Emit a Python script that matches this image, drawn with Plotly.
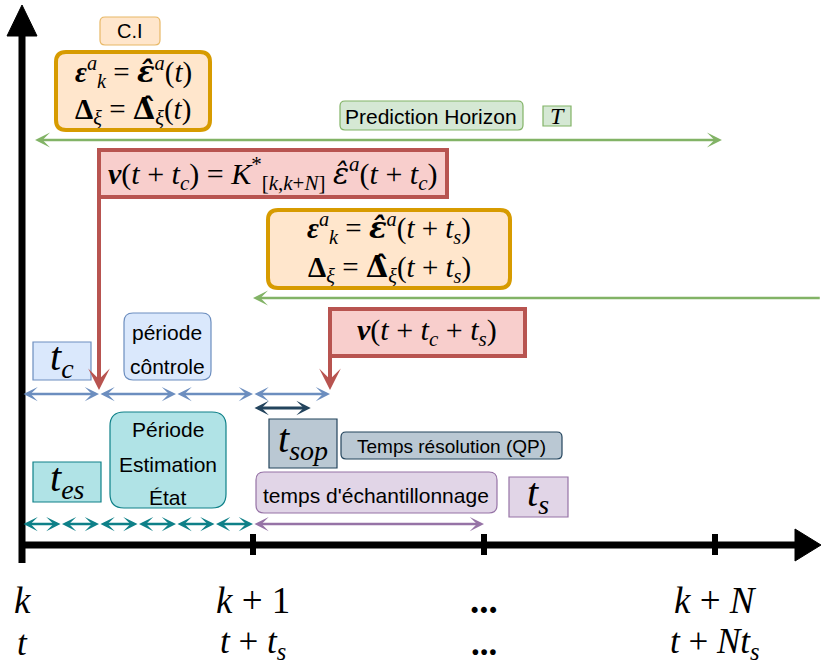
import plotly.graph_objects as go

# time line, in units of the sampling time t_s
t_s = 1.0
t_c = t_s / 3            # control period
t_es = t_s / 6           # estimation period
t_sop = t_s / 4          # QP solve time
n_ctrl = 4               # control periods drawn
n_est = 6                # estimation periods drawn
tick_steps = [1, 2, 3]   # k+1, ..., k+N
label_steps = [0, 1, 2, 3]
k_labels = ["<i>k</i>", "<i>k</i> + 1", "<b>...</b>", "<i>k</i> + <i>N</i>"]
t_labels = ["<i>t</i>", "<i>t</i> + <i>t</i><sub><i>s</i></sub>", "<b>...</b>",
            "<i>t</i> + <i>Nt</i><sub><i>s</i></sub>"]
horizon_1 = [0.05, 3.03]
horizon_2 = [1.0, 3.46]

# page geometry (pixels): origin of the time axis and pixels per t_s
W, H = 821, 668
X0, PX = 22, 231
t_end = (W - X0) / PX


def px(v):
    return (v - X0) / PX


MATH = "Liberation Serif"
SANS = "Liberation Sans"
HAT = '<span style="font-family:DejaVu Serif">{}</span>'

fig = go.Figure()
shapes = []


def box(x0, y0, x1, y1, fill, line, lw=1.2, r=6):
    if r == 0:
        shapes.append(dict(type="rect", x0=px(x0), x1=px(x1), y0=y0, y1=y1,
                           fillcolor=fill, line=dict(color=line, width=lw), layer="below"))
        return
    rx = r / PX
    a, b = px(x0), px(x1)
    p = (f"M{a+rx},{y0} L{b-rx},{y0} Q{b},{y0} {b},{y0+r} L{b},{y1-r} Q{b},{y1} {b-rx},{y1} "
         f"L{a+rx},{y1} Q{a},{y1} {a},{y1-r} L{a},{y0+r} Q{a},{y0} {a+rx},{y0} Z")
    shapes.append(dict(type="path", path=p, fillcolor=fill,
                       line=dict(color=line, width=lw), layer="below"))


def text(x, y, s, size, family=SANS, color="black"):
    fig.add_annotation(x=px(x), y=y, text=s, showarrow=False, xanchor="center",
                       yanchor="middle", font=dict(family=family, size=size, color=color))


def arrow(x0, x1, y0, y1, color, width, size, both=True, head=3):
    fig.add_annotation(x=x1, y=y1, ax=x0, ay=y0, xref="x", yref="y", axref="x", ayref="y",
                       text="", showarrow=True, arrowhead=head, arrowsize=size,
                       arrowwidth=width, arrowcolor=color,
                       arrowside="end+start" if both else "end",
                       startarrowhead=head, startarrowsize=size)


ORANGE_F, ORANGE_L = "#ffe6cc", "#d79b00"
RED_F, RED_L = "#f8cecc", "#b85450"
GREEN_F, GREEN_L = "#d5e8d4", "#82b366"
BLUE_F, BLUE_L = "#dae8fc", "#6c8ebf"
TEAL_F, TEAL_L = "#b0e3e6", "#0e8088"
GREY_F, GREY_L = "#bac8d3", "#23445d"
PURP_F, PURP_L = "#e1d5e7", "#9673a6"

# boxes
box(100, 17, 160, 45, ORANGE_F, "#e8b866", 1.2, 5)
box(56, 52, 210, 130, ORANGE_F, ORANGE_L, 4, 10)
box(340, 101, 523, 130, GREEN_F, GREEN_L, 1.2, 5)
box(543, 106, 571, 126, GREEN_F, GREEN_L, 1.2, 0)
box(X0 + t_c * PX, 150, 447, 197, RED_F, RED_L, 4, 0)
box(268, 210, 510, 288, ORANGE_F, ORANGE_L, 4, 10)
box(X0 + (t_s + t_c) * PX, 309, 525, 356, RED_F, RED_L, 4, 0)
box(33, 342, 91, 380, BLUE_F, BLUE_L, 1.2, 0)
box(124, 313, 211, 380, BLUE_F, BLUE_L, 1.2, 9)
box(33, 462, 101, 502, TEAL_F, TEAL_L, 1.2, 0)
box(110, 412, 226, 508, TEAL_F, TEAL_L, 1.2, 14)
box(269, 419, 337, 468, GREY_F, GREY_L, 1.2, 0)
box(341, 432, 562, 459, GREY_F, GREY_L, 1.2, 5)
box(256, 472, 497, 513, PURP_F, PURP_L, 1.2, 8)
box(509, 477, 568, 517, PURP_F, PURP_L, 1.2, 0)

# axes drawn as thick black arrows
shapes.append(dict(type="line", x0=0, x1=0, y0=563, y1=30, line=dict(color="black", width=7)))
shapes.append(dict(type="path", fillcolor="black", line=dict(color="black", width=1),
                   path=f"M0,5 L{15/PX},36 L{-15/PX},36 Z"))
shapes.append(dict(type="line", x0=0, x1=px(798), y0=545, y1=545,
                   line=dict(color="black", width=7)))
shapes.append(dict(type="path", fillcolor="black", line=dict(color="black", width=1),
                   path=f"M{t_end},545 L{px(795)},529 L{px(795)},561 Z"))
for k in tick_steps:
    shapes.append(dict(type="line", x0=k * t_s, x1=k * t_s, y0=534, y1=555,
                       line=dict(color="black", width=6)))

# horizon arrows
arrow(horizon_1[0], horizon_1[1], 140, 140, GREEN_L, 2.5, 1.0)
arrow(horizon_2[1], horizon_2[0], 298, 298, GREEN_L, 2.5, 1.0, both=False)

# control period arrows
for i in range(n_ctrl):
    arrow(i * t_c, (i + 1) * t_c, 394, 394, BLUE_L, 2.5, 0.95)
# estimation period arrows
for i in range(n_est):
    arrow(i * t_es, (i + 1) * t_es, 524, 524, TEAL_L, 2.5, 0.95)
# QP solve time
arrow(t_s, t_s + t_sop, 408, 408, GREY_L, 3, 0.8)
# sampling time
arrow(t_s, 2 * t_s, 524, 524, PURP_L, 2.5, 0.95)
# control laws applied at t + t_c and t + t_c + t_s
arrow(t_c, t_c, 197, 390, RED_L, 4, 0.9, both=False)
arrow(t_s + t_c, t_s + t_c, 356, 390, RED_L, 4, 0.9, both=False)

eps_b = "<b><i>ε</i></b>"
eps_hat_b = HAT.format("<b><i>ε̂</i></b>")
eps_hat = HAT.format("<i>ε̂</i>")
delta_hat = HAT.format("<b>Δ̂</b>")

# texts
text(130, 31, "C.I", 20)
text(133, 72, f"{eps_b}<sup><i>a</i></sup><sub><i>k</i></sub> = {eps_hat_b}<sup><i>a</i></sup>(<i>t</i>)", 29, MATH)
text(133, 110, f"<b>Δ</b><sub><i>ξ</i></sub> = {delta_hat}<sub><i>ξ</i></sub>(<i>t</i>)", 29, MATH)
text(431, 116, "Prediction Horizon", 21)
text(557, 116, "<i>T</i>", 24, MATH)
text(273, 173, f"<b><i>ν</i></b>(<i>t</i> + <i>t</i><sub><i>c</i></sub>) = <i>K</i><sup>*</sup><sub>[<i>k</i>,<i>k</i>+<i>N</i>]</sub> {eps_hat}<sup><i>a</i></sup>(<i>t</i> + <i>t</i><sub><i>c</i></sub>)", 30, MATH)
text(389, 228, f"{eps_b}<sup><i>a</i></sup><sub><i>k</i></sub> = {eps_hat_b}<sup><i>a</i></sup>(<i>t</i> + <i>t</i><sub><i>s</i></sub>)", 29, MATH)
text(389, 268, f"<b>Δ</b><sub><i>ξ</i></sub> = {delta_hat}<sub><i>ξ</i></sub>(<i>t</i> + <i>t</i><sub><i>s</i></sub>)", 29, MATH)
text(427, 332, "<b><i>ν</i></b>(<i>t</i> + <i>t</i><sub><i>c</i></sub> + <i>t</i><sub><i>s</i></sub>)", 30, MATH)
text(62, 359, "<i>t</i><sub><i>c</i></sub>", 40, MATH)
text(167, 332, "période", 21)
text(167, 366, "côntrole", 21)
text(67, 480, "<i>t</i><sub><i>es</i></sub>", 40, MATH)
text(168, 429, "Période", 21)
text(168, 464, "Estimation", 21)
text(168, 497, "État", 21)
text(303, 441, "<i>t</i><sub><i>sop</i></sub>", 40, MATH)
text(451, 446, "Temps résolution (QP)", 19)
text(376, 495, "temps d'échantillonnage", 21)
text(538, 495, "<i>t</i><sub><i>s</i></sub>", 40, MATH)

for s, kl, tl in zip(label_steps, k_labels, t_labels):
    fig.add_annotation(x=s * t_s, y=600, text=kl, showarrow=False, xanchor="center",
                       yanchor="middle", font=dict(family=MATH, size=37, color="black"))
    fig.add_annotation(x=s * t_s, y=643, text=tl, showarrow=False, xanchor="center",
                       yanchor="middle", font=dict(family=MATH, size=35, color="black"))

fig.update_layout(
    width=W, height=H, margin=dict(l=0, r=0, t=0, b=0),
    plot_bgcolor="white", paper_bgcolor="white", showlegend=False,
    xaxis=dict(range=[-X0 / PX, t_end], visible=False, fixedrange=True),
    yaxis=dict(range=[H, 0], visible=False, fixedrange=True),
    shapes=shapes,
)
fig.write_html("out.html", post_script="document.body.style.margin='0';",
               config={"displayModeBar": False})
